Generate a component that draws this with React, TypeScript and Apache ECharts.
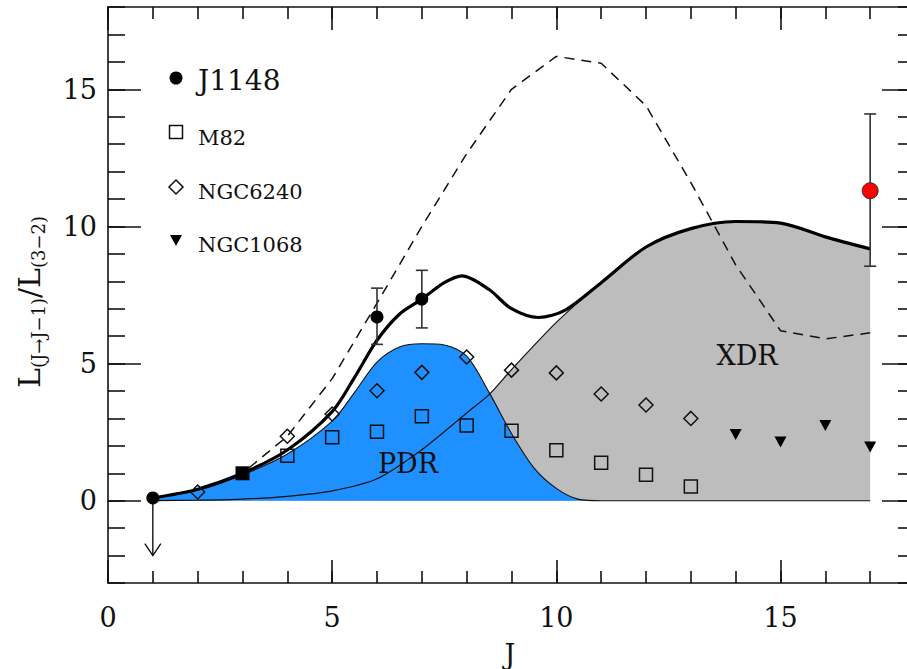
import React, { useEffect, useRef } from 'react';
import * as echarts from 'echarts';

// ---- tick labels ----
const xMajorTicks = [0, 5, 10, 15];
const yMajorTicks = [0, 5, 10, 15];

// ---- model curves ----
const totalJ = [1, 2, 3, 4, 5, 5.5, 6, 6.5, 7, 7.5, 7.9, 8.5, 9, 9.6, 10.2, 11, 12, 13, 14, 15, 16, 17];
const totalY = [0.1, 0.42, 1.0, 1.85, 3.25, 4.5, 5.85, 6.8, 7.35, 7.95, 8.2, 7.7, 7.0, 6.68, 6.95, 7.95, 9.25, 9.92, 10.18, 10.12, 9.62, 9.18];

const dashedJ = [1, 2, 3, 4, 5, 6, 7, 8, 9, 10, 11, 12, 13, 14, 15, 16, 17];
const dashedY = [0.1, 0.4, 1.0, 2.35, 4.45, 7.2, 10.0, 12.65, 15.0, 16.2, 15.95, 14.4, 11.6, 8.6, 6.2, 5.9, 6.12];

const pdrJ = [1, 2, 3, 4, 5, 5.5, 6, 6.5, 7, 7.5, 8, 8.5, 9, 9.5, 10, 10.5, 11, 12, 13, 14, 15, 16, 17];
const pdrY = [0.1, 0.38, 0.94, 1.7, 2.9, 3.95, 5.05, 5.6, 5.72, 5.68, 5.27, 3.95, 2.45, 1.2, 0.45, 0.05, 0, 0, 0, 0, 0, 0, 0];

const xdrJ = [1, 2, 3, 4, 5, 6, 7, 8, 8.5, 9, 10, 11, 12, 13, 14, 15, 16, 17];
const xdrY = [0, 0.02, 0.06, 0.16, 0.36, 0.8, 1.86, 3.2, 3.87, 4.78, 6.5, 7.95, 9.25, 9.92, 10.18, 10.12, 9.62, 9.18];

// ---- observations ----
const j1148J = [1, 6, 7];
const j1148Y = [0.1, 6.7, 7.35];
const j1148NormJ = [3];
const j1148NormY = [1.0];
const j1148ErrJ = [6, 7, 17];
const j1148ErrLow = [5.7, 6.3, 8.55];
const j1148ErrHigh = [7.75, 8.4, 14.1];
const limitJ = [1];
const limitFrom = [0.1];
const limitTo = [-2.0];
const redJ = [17];
const redY = [11.3];

const m82J = [4, 5, 6, 7, 8, 9, 10, 11, 12, 13];
const m82Y = [1.64, 2.31, 2.51, 3.08, 2.74, 2.55, 1.84, 1.38, 0.95, 0.52];

const ngc6240J = [2, 4, 5, 6, 7, 8, 9, 10, 11, 12, 13];
const ngc6240Y = [0.32, 2.35, 3.16, 4.01, 4.68, 5.24, 4.76, 4.66, 3.89, 3.49, 3.0];

const ngc1068J = [14, 15, 16, 17];
const ngc1068Y = [2.41, 2.14, 2.74, 1.96];

const legendNames = ['J1148', 'M82', 'NGC6240', 'NGC1068'];

const zip = (a: number[], b: number[]) => a.map((v, i) => [v, b[i]]);

const FONT = 'DejaVu Serif';
const INK = '#111';

function App() {
  const ref = useRef<HTMLDivElement>(null);

  useEffect(() => {
    if (!ref.current) return;
    const chart = echarts.init(ref.current, undefined, { renderer: 'svg' });

    const lineStyle = { color: INK, width: 1.6 };
    const mkX = (position: string, major: boolean, labels: boolean) => ({
      type: 'value',
      position,
      min: 0,
      max: 18,
      interval: 1,
      axisLine: { show: major, onZero: false, lineStyle },
      axisTick: major
        ? { show: true, inside: true, length: 23, customValues: xMajorTicks, lineStyle }
        : { show: true, inside: true, length: 12, lineStyle },
      axisLabel: labels
        ? { show: true, customValues: xMajorTicks, margin: 21, fontSize: 27, fontFamily: FONT, color: INK }
        : { show: false },
      splitLine: { show: false },
    });
    const mkY = (position: string, major: boolean, labels: boolean) => ({
      type: 'value',
      position,
      min: -3,
      max: 18,
      interval: 1,
      axisLine: { show: major, onZero: false, lineStyle },
      axisTick: major
        ? { show: true, inside: true, length: 33, customValues: yMajorTicks, lineStyle }
        : { show: true, inside: true, length: 17, lineStyle },
      axisLabel: labels
        ? { show: true, customValues: yMajorTicks, margin: 11, fontSize: 27, fontFamily: FONT, color: INK }
        : { show: false },
      splitLine: { show: false },
    });

    const errorBarItem = (params: any, api: any) => {
      const x = api.value(0);
      const lo = api.coord([x, api.value(1)]);
      const hi = api.coord([x, api.value(2)]);
      const cap = 6;
      const st = { stroke: '#333', lineWidth: 1.6 };
      return {
        type: 'group',
        children: [
          { type: 'line', shape: { x1: lo[0], y1: lo[1], x2: hi[0], y2: hi[1] }, style: st },
          { type: 'line', shape: { x1: lo[0] - cap, y1: lo[1], x2: lo[0] + cap, y2: lo[1] }, style: st },
          { type: 'line', shape: { x1: hi[0] - cap, y1: hi[1], x2: hi[0] + cap, y2: hi[1] }, style: st },
        ],
      };
    };
    const arrowItem = (params: any, api: any) => {
      const x = api.value(0);
      const a = api.coord([x, api.value(1)]);
      const b = api.coord([x, api.value(2)]);
      const st = { stroke: INK, lineWidth: 1.4, fill: 'none' };
      return {
        type: 'group',
        children: [
          { type: 'line', shape: { x1: a[0], y1: a[1], x2: b[0], y2: b[1] }, style: st },
          { type: 'polyline', shape: { points: [[b[0] - 8, b[1] - 12], [b[0], b[1]], [b[0] + 8, b[1] - 12]] }, style: st },
        ],
      };
    };

    const openStyle = { color: 'rgba(0,0,0,0)', borderColor: INK, borderWidth: 1.5, opacity: 1 };

    const option: any = {
      animation: false,
      grid: { left: 108, top: 7, width: 807, height: 576, outerBoundsMode: 'none', containLabel: false },
      xAxis: [mkX('bottom', true, true), mkX('bottom', false, false), mkX('top', true, false), mkX('top', false, false)],
      yAxis: [mkY('left', true, true), mkY('left', false, false), mkY('right', true, false), mkY('right', false, false)],
      series: [
        {
          type: 'line', data: zip(xdrJ, xdrY), smooth: 0.25, symbol: 'none', silent: true,
          lineStyle: { width: 0, opacity: 0 }, areaStyle: { color: '#bdbdbd', opacity: 1 }, z: 1,
        },
        {
          type: 'line', data: zip(pdrJ, pdrY), smooth: 0.3, symbol: 'none', silent: true,
          lineStyle: { width: 1.1, color: INK }, areaStyle: { color: '#1e90ff', opacity: 1 }, z: 2,
        },
        {
          type: 'line', data: zip(xdrJ, xdrY), smooth: 0.25, symbol: 'none', silent: true,
          lineStyle: { width: 1.2, color: INK }, z: 3,
        },
        {
          type: 'line', data: zip(dashedJ, dashedY), symbol: 'none', silent: true,
          lineStyle: { width: 1.5, color: INK, type: [10, 7] }, z: 4,
        },
        {
          type: 'line', data: zip(totalJ, totalY), smooth: 0.3, symbol: 'none', silent: true,
          lineStyle: { width: 3.2, color: '#000' }, z: 5,
        },
        {
          type: 'custom', renderItem: errorBarItem, silent: true, z: 6,
          encode: { x: 0, y: [1, 2] },
          data: j1148ErrJ.map((j, i) => [j, j1148ErrLow[i], j1148ErrHigh[i]]),
        },
        {
          type: 'custom', renderItem: arrowItem, silent: true, z: 6,
          encode: { x: 0, y: [1, 2] },
          data: limitJ.map((j, i) => [j, limitFrom[i], limitTo[i]]),
        },
        {
          name: legendNames[1], type: 'scatter', data: zip(m82J, m82Y), symbol: 'rect', symbolSize: 13,
          itemStyle: openStyle, silent: true, z: 7,
        },
        {
          name: legendNames[2], type: 'scatter', data: zip(ngc6240J, ngc6240Y), symbol: 'diamond', symbolSize: 14,
          itemStyle: openStyle, silent: true, z: 7,
        },
        {
          name: legendNames[3], type: 'scatter', data: zip(ngc1068J, ngc1068Y), symbol: 'triangle', symbolRotate: 180,
          symbolSize: [12, 11], itemStyle: { color: '#000', opacity: 1 }, silent: true, z: 7,
        },
        {
          name: legendNames[0], type: 'scatter', data: zip(j1148J, j1148Y), symbol: 'circle', symbolSize: 13,
          itemStyle: { color: '#000', opacity: 1 }, silent: true, z: 8,
        },
        {
          type: 'scatter', data: zip(j1148NormJ, j1148NormY), symbol: 'rect', symbolSize: 14,
          itemStyle: { color: '#000', opacity: 1 }, silent: true, z: 8,
        },
        {
          type: 'scatter', data: zip(redJ, redY), symbol: 'circle', symbolSize: 16,
          itemStyle: { color: '#ff0000', borderColor: '#333', borderWidth: 1, opacity: 1 }, silent: true, z: 9,
        },
      ],
      graphic: [
        // legend
        { type: 'circle', shape: { cx: 176, cy: 78, r: 6.5 }, style: { fill: '#000' }, silent: true },
        { type: 'text', x: 198, y: 80, style: { text: legendNames[0], fontSize: 28, fontFamily: FONT, fill: INK, verticalAlign: 'middle', textVerticalAlign: 'middle' }, silent: true },
        { type: 'rect', shape: { x: 169.5, y: 125.5, width: 13, height: 13 }, style: { fill: 'none', stroke: INK, lineWidth: 1.5 }, silent: true },
        { type: 'text', x: 198, y: 138, style: { text: legendNames[1], fontSize: 21, fontFamily: FONT, fill: INK, verticalAlign: 'middle', textVerticalAlign: 'middle' }, silent: true },
        { type: 'polygon', shape: { points: [[176, 180], [183, 187], [176, 194], [169, 187]] }, style: { fill: 'none', stroke: INK, lineWidth: 1.5 }, silent: true },
        { type: 'text', x: 198, y: 192, style: { text: legendNames[2], fontSize: 21, fontFamily: FONT, fill: INK, verticalAlign: 'middle', textVerticalAlign: 'middle' }, silent: true },
        { type: 'polygon', shape: { points: [[170, 235], [182, 235], [176, 246]] }, style: { fill: '#000' }, silent: true },
        { type: 'text', x: 198, y: 245, style: { text: legendNames[3], fontSize: 21, fontFamily: FONT, fill: INK, verticalAlign: 'middle', textVerticalAlign: 'middle' }, silent: true },
        // region labels
        { type: 'text', x: 408, y: 463, z: 100, style: { text: 'PDR', fontSize: 27, fontFamily: FONT, fill: INK, align: 'center', textAlign: 'center', verticalAlign: 'middle', textVerticalAlign: 'middle' }, silent: true },
        { type: 'text', x: 747, y: 355, z: 100, style: { text: 'XDR', fontSize: 27, fontFamily: FONT, fill: INK, align: 'center', textAlign: 'center', verticalAlign: 'middle', textVerticalAlign: 'middle' }, silent: true },
        // axis titles
        { type: 'text', x: 510, y: 654, style: { text: 'J', fontSize: 27, fontFamily: FONT, fill: INK, align: 'center', textAlign: 'center', verticalAlign: 'middle', textVerticalAlign: 'middle' }, silent: true },
        {
          type: 'text', x: 29, y: 302, rotation: Math.PI / 2, silent: true,
          style: {
            text: '{a|L}{b|(J→J−1)}{a|/L}{b|(3−2)}',
            align: 'center', textAlign: 'center', verticalAlign: 'middle', textVerticalAlign: 'middle',
            fill: INK,
            rich: {
              a: { fontSize: 30, fontFamily: FONT, fill: INK, color: INK, lineHeight: 36, verticalAlign: 'middle' },
              b: { fontSize: 18, fontFamily: FONT, fill: INK, color: INK, lineHeight: 18, verticalAlign: 'bottom' },
            },
          },
        },
      ],
    };

    chart.setOption(option);
    return () => chart.dispose();
  }, []);

  return (
    <div
      ref={ref}
      style={{ position: 'fixed', left: 0, top: 0, width: 907, height: 669, background: '#fff' }}
    />
  );
}

export default App;
